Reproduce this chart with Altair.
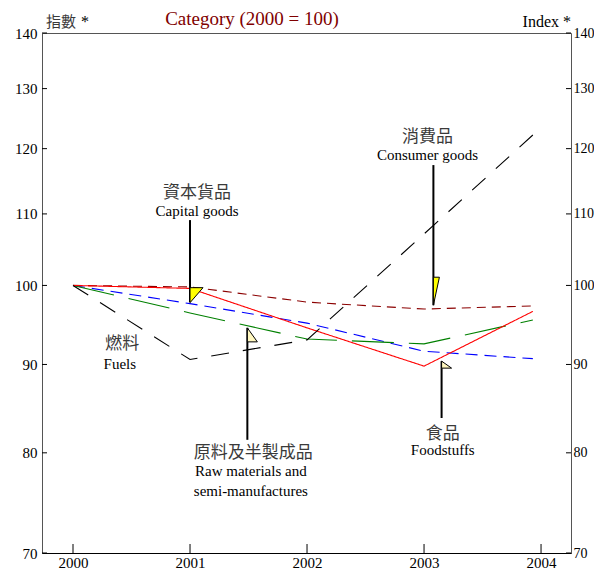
import altair as alt
import pandas as pd

# ---- data ----
years = [2000, 2001, 2002, 2003, 2003.93]
consumer = [100, 99.8, 97.8, 96.9, 97.3]     # brown dashed
capital = [100, 97.6, 95.1, 91.6, 90.7]      # blue dashed
raw = [100, 96.4, 93.1, 92.5, 95.5]          # green long dash
food = [100, 99.6, 94.5, 89.8, 96.6]         # red solid
fuels = [100, 90.6, 93.0, 107.1, 122.2]      # black dashed

y_ticks = [70, 80, 90, 100, 110, 120, 130, 140]
x_ticks = [2000, 2001, 2002, 2003, 2004]

series = [
    ("Consumer goods", consumer, "#8B0000", [9, 6]),
    ("Capital goods", capital, "#0000FF", [12, 7]),
    ("Raw materials", raw, "#008000", [42, 15]),
    ("Foodstuffs", food, "#FF0000", [1, 0]),
    ("Fuels", fuels, "#000000", [18, 14]),
]

# annotation flags (data units)
flag_x = [2001.0, 2003.08, 2001.49, 2003.15]
flag_top = [109.1, 117.4, 94.5, 90.4]
flag_bottom = [97.8, 97.4, 81.4, 83.8]
flag_anchor = [99.7, 101.1, 94.5, 90.4]
flag_shape = ["M0,0L13,0L0,15Z", "M0,0L6,0L0,28Z", "M0,0L10,14L0,14Z", "M0,0L10,7L0,7Z"]
flag_fill = ["#FFFF00", "#FFFF00", "#FFF7BF", "#FFF7BF"]

zh_texts = ["資本貨品", "消費品", "燃料", "原料及半製成品", "食品"]
zh_x = [2001.06, 2003.03, 2000.42, 2001.54, 2003.16]
zh_y = [113.1, 121.9, 92.5, 80.0, 82.0]

en_texts = ["Capital goods", "Consumer goods", "Fuels", "Raw materials and", "semi-manufactures", "Foodstuffs"]
en_x = [2001.06, 2003.03, 2000.40, 2001.52, 2001.52, 2003.16]
en_y = [110.4, 119.0, 90.1, 78.1, 76.0, 80.3]

SERIF = "Liberation Serif"
CJK = "Noto Sans CJK TC"
W, H = 529, 520

xscale = alt.Scale(domain=[1999.735, 2004.256], nice=False, zero=False)
yscale = alt.Scale(type="log", domain=[70, 140], nice=False)

x_axis = alt.Axis(values=x_ticks, format="d", tickSize=0, domain=True, domainColor="#000",
                  grid=False, labelFont=SERIF, labelFontSize=15, labelColor="#000",
                  labelPadding=2, title=None, labelFlush=False, orient="bottom")
y_left = alt.Axis(values=y_ticks, format="d", tickSize=0, domain=False, grid=False,
                  labelFont=SERIF, labelFontSize=15, labelColor="#000", labelPadding=5,
                  title=None, orient="left")
y_right = alt.Axis(values=y_ticks, format="d", tickSize=0, domain=False, grid=False,
                   labelFont=SERIF, labelFontSize=14, labelColor="#000", labelPadding=2,
                   title=None, orient="right", labelAlign="left")

X = lambda f: alt.X(f, scale=xscale, axis=x_axis)

layers = []
first = True
for name, vals, color, dash in series:
    df = pd.DataFrame({"x": years, "v": vals})
    layers.append(
        alt.Chart(df).mark_line(color=color, strokeDash=dash, strokeWidth=1.1).encode(
            x=X("x:Q"),
            y=alt.Y("v:Q", scale=yscale, axis=y_left if first else None),
        )
    )
    first = False

# inward ticks
ytick_df = pd.DataFrame({"v": y_ticks})
layers.append(alt.Chart(ytick_df).mark_rule(color="#000", strokeWidth=1).encode(
    x=alt.value(0), x2=alt.value(5), y=alt.Y("v:Q", scale=yscale, axis=y_right)))
layers.append(alt.Chart(ytick_df).mark_rule(color="#000", strokeWidth=1).encode(
    x=alt.value(W - 5), x2=alt.value(W), y=alt.Y("v:Q", scale=yscale, axis=None)))
xtick_df = pd.DataFrame({"x": x_ticks})
layers.append(alt.Chart(xtick_df).mark_rule(color="#000", strokeWidth=1).encode(
    x=X("x:Q"), y=alt.value(H - 9), y2=alt.value(H)))

# flags
flag_df = pd.DataFrame({"x": flag_x, "top": flag_top, "bottom": flag_bottom,
                        "anchor": flag_anchor, "shape": flag_shape, "fill": flag_fill})
layers.append(alt.Chart(flag_df).mark_rule(color="#000", strokeWidth=2).encode(
    x=X("x:Q"),
    y=alt.Y("top:Q", scale=yscale, axis=None), y2="bottom:Q"))
layers.append(alt.Chart(flag_df).mark_point(filled=True, size=4, stroke="#000", strokeWidth=1,
                                             opacity=1).encode(
    x=X("x:Q"),
    y=alt.Y("anchor:Q", scale=yscale, axis=None),
    shape=alt.Shape("shape:N", scale=None),
    fill=alt.Fill("fill:N", scale=None)))

# labels
zh_df = pd.DataFrame({"t": zh_texts, "x": zh_x, "v": zh_y})
layers.append(alt.Chart(zh_df).mark_text(font=CJK, fontSize=17, color="#3a3a3a",
                                          baseline="middle", align="center").encode(
    x=X("x:Q"),
    y=alt.Y("v:Q", scale=yscale, axis=None), text="t:N"))
en_df = pd.DataFrame({"t": en_texts, "x": en_x, "v": en_y})
layers.append(alt.Chart(en_df).mark_text(font=SERIF, fontSize=15, color="#000",
                                          baseline="middle", align="center").encode(
    x=X("x:Q"),
    y=alt.Y("v:Q", scale=yscale, axis=None), text="t:N"))

one = pd.DataFrame({"a": [0]})
layers.append(alt.Chart(one).mark_text(font=CJK, fontSize=15, color="#3a3a3a",
                                        align="left", baseline="middle").encode(
    x=alt.value(4), y=alt.value(-11), text=alt.value("指數")))
layers.append(alt.Chart(one).mark_text(font=SERIF, fontSize=16, color="#000",
                                        align="left", baseline="middle").encode(
    x=alt.value(39), y=alt.value(-11), text=alt.value("*")))
layers.append(alt.Chart(one).mark_text(font=SERIF, fontSize=16, color="#000",
                                        align="right", baseline="middle").encode(
    x=alt.value(W), y=alt.value(-11), text=alt.value("Index *")))
layers.append(alt.Chart(one).mark_text(font=SERIF, fontSize=19, color="#800000",
                                        align="center", baseline="alphabetic").encode(
    x=alt.value(210), y=alt.value(-8), text=alt.value("Category (2000 = 100)")))

chart = alt.layer(*layers).resolve_axis(y="independent").properties(
    width=W, height=H,
    autosize=alt.AutoSizeParams(type="none"),
    padding={"left": 34, "top": 25, "right": 23, "bottom": 17},
).configure_view(stroke="#555", strokeWidth=1)

chart.save("out.html", embed_options={"renderer": "svg", "actions": False})
